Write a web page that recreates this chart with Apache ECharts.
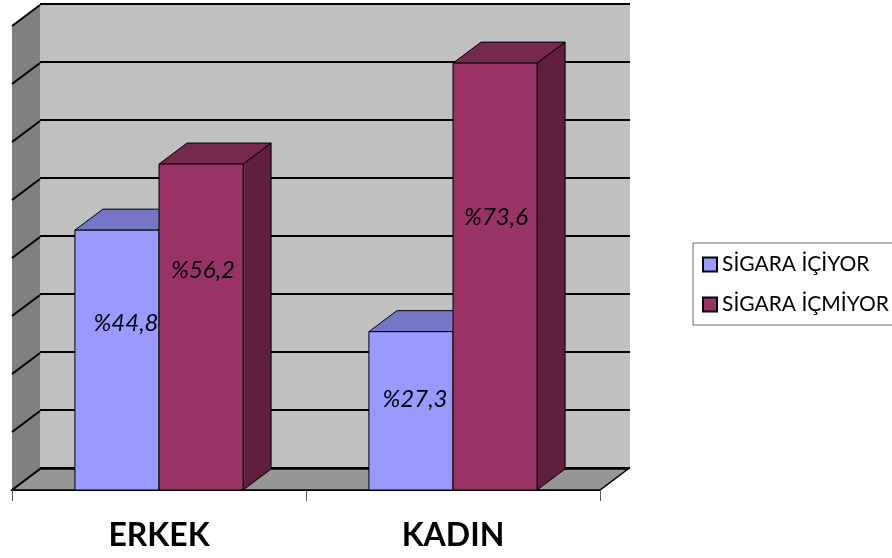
<!DOCTYPE html>
<html><head><meta charset="utf-8">
<script src="https://cdn.jsdelivr.net/npm/echarts@6/dist/echarts.min.js"></script>
<style>html,body{margin:0;padding:0;background:#fff}#c{width:892px;height:558px}</style>
</head><body><div id="c"></div>
<script>
const categories = ['ERKEK', 'KADIN'];
const seriesNames = ['SİGARA İÇİYOR', 'SİGARA İÇMİYOR'];
const smokers = [44.8, 27.3];
const nonSmokers = [56.2, 73.6];
const yTicks = [0, 10, 20, 30, 40, 50, 60, 70, 80];

// style constants
const DX = 28, DY = 21;
const palette = [
  {front: '#9999FF', top: '#7676C6', side: '#5E5EA0'},
  {front: '#993366', top: '#76294F', side: '#5F1F3E'}
];
const labelNudge = [[[9, 0], [4, 11]], [[2, -11], [1, 0]]];
const fmt = v => '%' + v.toFixed(1).replace('.', ',');

const chart = echarts.init(document.getElementById('c'), null, {renderer: 'canvas'});

function barRender(s) {
  return function (params, api) {
    const i = api.value(0), v = api.value(1);
    const base = api.coord([i, 0]);
    const top = api.coord([i, v]);
    const bw = api.size([1, 0])[0] * 0.286;
    const left = s === 0 ? base[0] - bw : base[0];
    const right = left + bw;
    const y0 = base[1], y1 = top[1];
    const c = palette[s];
    const st = {stroke: '#000', lineWidth: 1};
    return {
      type: 'group',
      children: [
        {type: 'polygon', shape: {points: [[right, y1], [right + DX, y1 - DY], [right + DX, y0 - DY], [right, y0]]},
         style: Object.assign({fill: c.side}, st)},
        {type: 'polygon', shape: {points: [[left, y1], [left + DX, y1 - DY], [right + DX, y1 - DY], [right, y1]]},
         style: Object.assign({fill: c.top}, st)},
        {type: 'rect', shape: {x: left, y: y1, width: bw, height: y0 - y1},
         style: Object.assign({fill: c.front}, st)}
      ]
    };
  };
}

const option = {
  animation: false,
  backgroundColor: '#fff',
  grid: [
    {left: 12, right: 292, top: 26, bottom: 68},
    {left: 40, right: 262, top: 4, bottom: 90, show: true, backgroundColor: '#C0C0C0', borderWidth: 0}
  ],
  xAxis: [
    {type: 'category', gridIndex: 0, data: categories, boundaryGap: true, z: 5,
     axisLine: {lineStyle: {color: '#000', width: 1}},
     axisTick: {show: true, length: 11, lineStyle: {color: '#555'}},
     axisLabel: {fontFamily: 'Lato', fontWeight: 'bold', fontSize: 32, color: '#000', margin: 30}},
    {type: 'category', gridIndex: 1, data: categories, show: false}
  ],
  yAxis: [
    {type: 'value', gridIndex: 0, min: 0, max: 80, interval: 10, show: false, splitLine: {show: false}},
    {type: 'value', gridIndex: 1, min: 0, max: 80, interval: 10,
     axisLine: {show: false}, axisTick: {show: false}, axisLabel: {show: false},
     splitLine: {show: true, lineStyle: {color: '#000', width: 2}}}
  ],
  legend: {
    orient: 'vertical', left: 693, top: 243,
    padding: [11, 6, 10, 9],
    itemWidth: 14, itemHeight: 14, itemGap: 19,
    borderColor: '#666', borderWidth: 1, backgroundColor: '#fff',
    textStyle: {fontFamily: 'Lato', fontSize: 21, color: '#000', lineHeight: 21},
    data: seriesNames.map((n, k) => ({name: n, icon: 'rect',
      itemStyle: {color: palette[k].front, borderColor: '#000', borderWidth: 2}}))
  },
  series: [
    {
      type: 'custom', name: 'frame', xAxisIndex: 0, yAxisIndex: 0, z: 1, silent: true,
      data: yTicks.map(v => [0, v]),
      renderItem: function (params, api) {
        const cs = params.coordSys;
        const v = api.value(1);
        const p = api.coord([0, v]);
        const x0 = cs.x, bottom = cs.y + cs.height;
        const children = [];
        if (params.dataIndex === 0) {
          children.push({type: 'polygon', shape: {points: [[x0, bottom], [x0 + DX, bottom - DY], [x0 + DX, cs.y - DY], [x0, cs.y]]},
            style: {fill: '#808080', stroke: null}});
          children.push({type: 'polygon', shape: {points: [[x0, bottom], [x0 + cs.width, bottom], [x0 + cs.width + DX, bottom - DY], [x0 + DX, bottom - DY]]},
            style: {fill: '#969696', stroke: '#000', lineWidth: 1.5}});
        }
        children.push({type: 'line', shape: {x1: x0, y1: p[1], x2: x0 + DX, y2: p[1] - DY},
          style: {stroke: '#000', lineWidth: 2}});
        return {type: 'group', children: children};
      }
    },
    {
      type: 'custom', name: seriesNames[0], xAxisIndex: 0, yAxisIndex: 0, z: 3,
      itemStyle: {color: palette[0].front, borderColor: '#000', borderWidth: 2},
      data: smokers.map((v, i) => [i, v]),
      renderItem: barRender(0)
    },
    {
      type: 'custom', name: seriesNames[1], xAxisIndex: 0, yAxisIndex: 0, z: 3,
      itemStyle: {color: palette[1].front, borderColor: '#000', borderWidth: 2},
      data: nonSmokers.map((v, i) => [i, v]),
      renderItem: barRender(1)
    },
    {
      type: 'custom', name: 'labels', xAxisIndex: 0, yAxisIndex: 0, z: 6, silent: true,
      data: [].concat(smokers.map((v, i) => [i, v, 0]), nonSmokers.map((v, i) => [i, v, 1])),
      renderItem: function (params, api) {
        const i = api.value(0), v = api.value(1), s = api.value(2);
        const bw = api.size([1, 0])[0] * 0.286;
        const base = api.coord([i, v * 0.64]);
        const cx = (s === 0 ? base[0] - bw / 2 : base[0] + bw / 2) + labelNudge[s][i][0];
        const cy = base[1] + labelNudge[s][i][1];
        return {type: 'text', x: cx, y: cy,
          style: {text: fmt(v), fill: '#000', font: 'italic 24px Lato', align: 'center', verticalAlign: 'middle'}};
      }
    }
  ]
};
chart.setOption(option);
</script>
</body></html>
